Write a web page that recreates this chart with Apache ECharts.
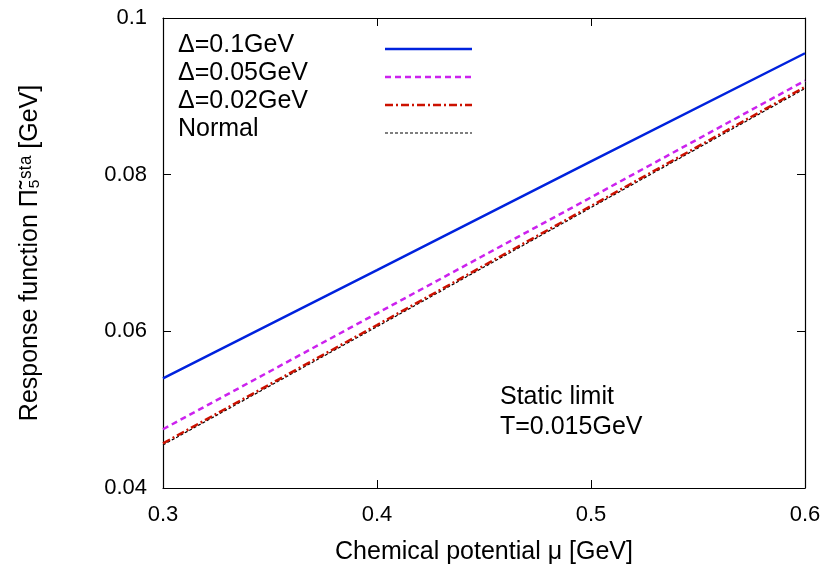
<!DOCTYPE html>
<html>
<head>
<meta charset="UTF-8">
<script src="https://cdn.jsdelivr.net/npm/echarts@6/dist/echarts.min.js"></script>
</head>
<body style="margin:0">
<div id="main" style="width:830px;height:581px;"></div>
<script>
var chartDom = document.getElementById('main');
var myChart = echarts.init(chartDom);

// 数据
var mu = [0.3, 0.4, 0.5, 0.6];
var delta01 = [0.054, 0.0678, 0.0817, 0.0955];
var delta005 = [0.0475, 0.0623, 0.0771, 0.092];
var delta002 = [0.0457, 0.0608, 0.076, 0.0912];
var normal = [0.0455, 0.0606, 0.0758, 0.091];
var names = ['Δ=0.1GeV', 'Δ=0.05GeV', 'Δ=0.02GeV', 'Normal'];
var colors = ['#0022dd', '#cc22ee', '#cc1100', '#000000'];
var types = ['solid', [6, 4], [8, 3, 2, 3], [3, 2]];
var widths = [2.5, 2.5, 2.5, 1.2];
var all = [delta01, delta005, delta002, normal];

var font = 'Liberation Sans';
var series = all.map(function (d, k) {
  return {
    name: names[k], type: 'line', symbol: 'none',
    data: mu.map(function (x, i) { return [x, d[i]]; }),
    lineStyle: { color: colors[k], width: widths[k], type: types[k] },
    z: 10 - k
  };
});

// 图例 (文字在左, 线在右)
var graphic = [];
names.forEach(function (n, k) {
  var y = 49 + k * 28;
  graphic.push({ type: 'text', left: 178, top: y - 16,
    style: { text: n, font: '25px ' + font, fill: '#000' } });
  graphic.push({ type: 'line', shape: { x1: 385, y1: y, x2: 472, y2: y },
    style: { stroke: colors[k], lineWidth: widths[k],
      lineDash: types[k] === 'solid' ? null : types[k] } });
});
graphic.push({ type: 'text', left: 500, top: 382,
  style: { text: 'Static limit\nT=0.015GeV', font: '25px ' + font, lineHeight: 30, fill: '#000' } });

var axisCommon = {
  axisLine: { show: true, lineStyle: { color: '#000', width: 1.2 } },
  axisTick: { inside: true, length: 8, lineStyle: { color: '#000' } },
  splitLine: { show: false }
};

var option = {
  animation: false,
  grid: { left: 163, right: 25, top: 18, bottom: 93 },
  xAxis: [
    Object.assign({ type: 'value', min: 0.3, max: 0.6, interval: 0.1,
      name: 'Chemical potential μ [GeV]', nameLocation: 'middle', nameGap: 52,
      nameTextStyle: { fontSize: 25, fontFamily: font, color: '#000' },
      axisLabel: { fontSize: 22, fontFamily: font, color: '#000', margin: 16,
        formatter: function (v) { return v.toFixed(1); } } }, axisCommon),
    Object.assign({ type: 'value', position: 'top', min: 0.3, max: 0.6, interval: 0.1,
      axisLabel: { show: false } }, axisCommon)
  ],
  yAxis: [
    Object.assign({ type: 'value', min: 0.04, max: 0.1, interval: 0.02,
      name: 'Response function Π̃₅ˢᵗᵃ [GeV]', nameLocation: 'middle', nameGap: 120,
      nameTextStyle: { fontSize: 25, fontFamily: font, color: '#000' },
      axisLabel: { fontSize: 22, fontFamily: font, color: '#000', margin: 16,
        formatter: function (v) { return v === 0.1 ? '0.1' : v.toFixed(2); } } }, axisCommon),
    Object.assign({ type: 'value', position: 'right', min: 0.04, max: 0.1, interval: 0.02,
      axisLabel: { show: false } }, axisCommon)
  ],
  graphic: graphic,
  series: series
};

myChart.setOption(option);
</script>
</body>
</html>
